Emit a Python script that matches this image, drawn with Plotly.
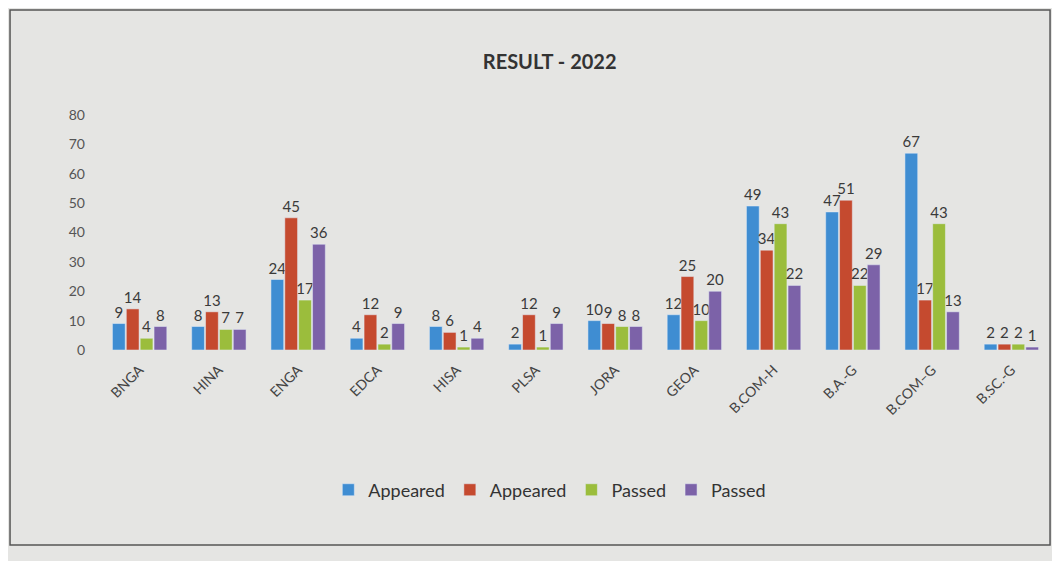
import plotly.graph_objects as go

# result 2022 - grouped bars
categories = ["BNGA", "HINA", "ENGA", "EDCA", "HISA", "PLSA", "JORA", "GEOA",
              "B.COM-H", "B.A.-G", "B.COM–G", "B.SC.-G"]

appeared_1 = [9, 8, 24, 4, 8, 2, 10, 12, 49, 47, 67, 2]
appeared_2 = [14, 13, 45, 12, 6, 12, 9, 25, 34, 51, 17, 2]
passed_1 = [4, 7, 17, 2, 1, 1, 8, 10, 43, 22, 43, 2]
passed_2 = [8, 7, 36, 9, 4, 9, 8, 20, 22, 29, 13, 1]

series = [
    ("Appeared", appeared_1, "#3f8dd2"),
    ("Appeared", appeared_2, "#c54a2f"),
    ("Passed", passed_1, "#9bbd3c"),
    ("Passed", passed_2, "#7c62a8"),
]

fig = go.Figure()
for name, vals, col in series:
    fig.add_trace(go.Bar(
        x=categories, y=vals, name=name,
        marker_color=col,
        text=vals, textposition="outside",
        textfont=dict(size=15, color="#3a3a3a"),
        constraintext="none",
        cliponaxis=False,
    ))

fig.update_layout(
    width=1060, height=561,
    barmode="group", bargap=0.3, bargroupgap=0.08,
    paper_bgcolor="#e5e5e3", plot_bgcolor="#e5e5e3",
    font=dict(family="Lato, Open Sans, sans-serif", color="#444444"),
    title=dict(text="<b>RESULT - 2022</b>", x=0.511, y=0.904, xanchor="center",
               yanchor="middle", font=dict(size=20, color="#333333")),
    margin=dict(l=92, r=17, t=107, b=219, autoexpand=False),
    legend=dict(orientation="h", x=0.473, xanchor="center", y=-0.596, yanchor="middle",
                font=dict(size=18, color="#333333"), traceorder="normal"),
    shapes=[dict(type="rect", xref="paper", yref="paper",
                 x0=-0.0946, x1=0.999, y0=-0.83, y1=1.447,
                 line=dict(color="#555555", width=1.5))],
)
fig.update_yaxes(range=[0, 80], dtick=10, showgrid=False, zeroline=False,
                 tickfont=dict(size=14, color="#555555"), ticklabelstandoff=14)
fig.update_xaxes(tickangle=-45, tickfont=dict(size=14, color="#444444"),
                 showline=False, ticklabelstandoff=8)

fig.write_html("out.html")
